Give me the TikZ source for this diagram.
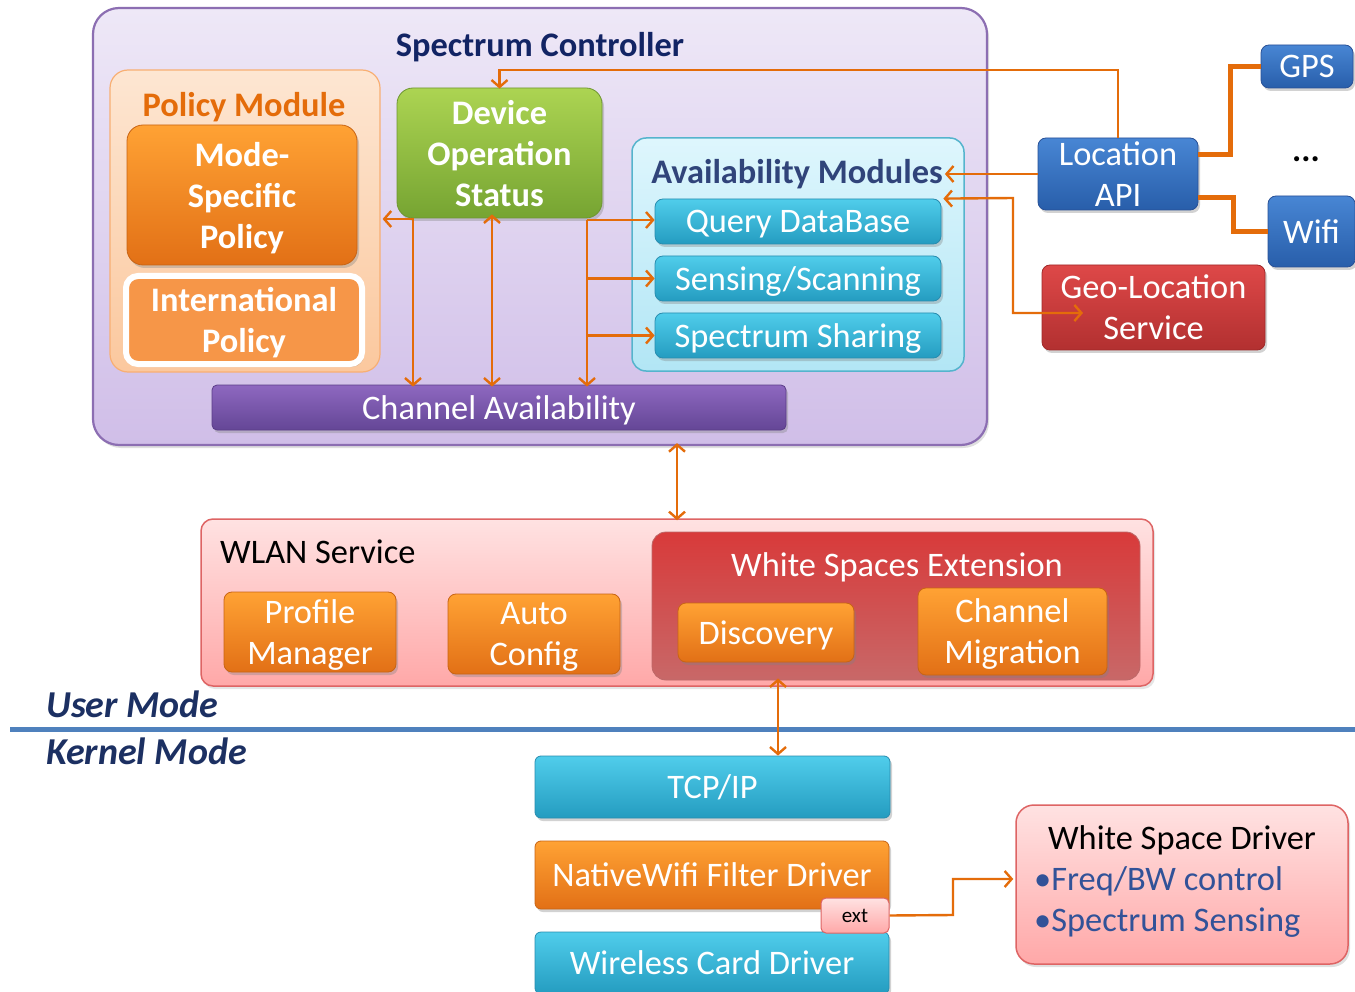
\documentclass[tikz,border=0pt]{standalone}
\usepackage{fontspec}
\setmainfont{Carlito}
\usetikzlibrary{arrows.meta,shadows}
\newcommand\fsA{\fontsize{34.4}{41}\selectfont}
\newcommand\fsM{\fontsize{38}{44}\selectfont}
\newcommand\fsS{\fontsize{21}{24}\selectfont}
\definecolor{arrowc}{RGB}{228,108,10}
\definecolor{scTop}{RGB}{238,232,247}
\definecolor{scBot}{RGB}{208,190,232}
\definecolor{scBord}{RGB}{140,110,178}
\definecolor{pmTop}{RGB}{253,230,210}
\definecolor{pmBot}{RGB}{251,200,158}
\definecolor{pmBord}{RGB}{248,175,115}
\definecolor{pmText}{RGB}{228,108,10}
\definecolor{oTop}{RGB}{255,162,52}
\definecolor{oBot}{RGB}{226,112,22}
\definecolor{oBord}{RGB}{200,100,20}
\definecolor{intlFill}{RGB}{246,150,72}
\definecolor{gTop}{RGB}{172,212,82}
\definecolor{gBot}{RGB}{118,164,50}
\definecolor{gBord}{RGB}{110,150,50}
\definecolor{amTop}{RGB}{222,246,253}
\definecolor{amBot}{RGB}{178,230,245}
\definecolor{amBord}{RGB}{85,180,205}
\definecolor{cTop}{RGB}{80,205,235}
\definecolor{cBot}{RGB}{36,156,192}
\definecolor{cBord}{RGB}{40,140,175}
\definecolor{pTop}{RGB}{142,104,192}
\definecolor{pBot}{RGB}{100,70,150}
\definecolor{pBord}{RGB}{90,60,135}
\definecolor{bTop}{RGB}{72,134,212}
\definecolor{bBot}{RGB}{40,94,170}
\definecolor{bBord}{RGB}{40,80,150}
\definecolor{rTop}{RGB}{222,72,72}
\definecolor{rBot}{RGB}{178,48,48}
\definecolor{rBord}{RGB}{160,40,40}
\definecolor{wlTop}{RGB}{255,226,226}
\definecolor{wlBot}{RGB}{255,168,168}
\definecolor{wlBord}{RGB}{222,100,100}
\definecolor{wseTop}{RGB}{216,58,58}
\definecolor{wseBot}{RGB}{200,104,104}
\definecolor{navy}{RGB}{18,36,100}
\definecolor{amText}{RGB}{48,68,122}
\definecolor{modeText}{RGB}{28,48,98}
\definecolor{lineBlue}{RGB}{79,129,189}
\definecolor{bulletBlue}{RGB}{50,82,152}
\begin{document}
\begin{tikzpicture}[x=1pt,y=-1pt,
  shad/.style={drop shadow={opacity=0.35,shadow xshift=2pt,shadow yshift=-3pt}},
  wbox/.style={rounded corners=8pt, align=center, text=white, font=\fsA, inner sep=0pt, text depth=0pt, line width=0.8pt, shad},
  orangeb/.style={wbox, top color=oTop, bottom color=oBot, draw=oBord},
  cyanb/.style={wbox, top color=cTop, bottom color=cBot, draw=cBord},
  greenb/.style={wbox, top color=gTop, bottom color=gBot, draw=gBord},
  purpleb/.style={wbox, rounded corners=5pt, top color=pTop, bottom color=pBot, draw=pBord},
  blueb/.style={wbox, top color=bTop, bottom color=bBot, draw=bBord},
  redb/.style={wbox, top color=rTop, bottom color=rBot, draw=rBord},
  label/.style={inner sep=0pt, font=\fsA, text depth=0pt},
  oarrow/.style={draw=arrowc, line width=2.4pt, -{Straight Barb[length=7pt,width=16pt]}},
  biarrow/.style={draw=arrowc, line width=2.4pt, {Straight Barb[length=7pt,width=16pt]}-{Straight Barb[length=7pt,width=16pt]}},
  thickline/.style={draw=arrowc, line width=5pt},
]
\useasboundingbox (0,0) rectangle (1355,992);
\fill[white] (0,0) rectangle (1355,992);

% ---------- Spectrum Controller ----------
\node[rounded corners=26pt, top color=scTop, bottom color=scBot, draw=scBord, line width=2.2pt,
      minimum width=894pt, minimum height=437pt, inner sep=0pt,
      drop shadow={opacity=0.25,shadow xshift=2pt,shadow yshift=-3pt}] (sc) at (540,226.5) {};
\node[label, font=\fsA\bfseries, text=navy] (sctitle) at (540,44) {Spectrum Controller};

% Policy module
\node[rounded corners=18pt, top color=pmTop, bottom color=pmBot, draw=pmBord, line width=1.2pt,
      minimum width=270pt, minimum height=302pt, inner sep=0pt] (pm) at (245,221) {};
\node[label, font=\fsA\bfseries, text=pmText] (pmtitle) at (244,104) {Policy Module};
\node[orangeb, rounded corners=16pt, font=\fsA\bfseries, minimum width=230pt, minimum height=140pt] (msp) at (242,195) {Mode-\\Specific\\Policy};
\node[rounded corners=12pt, fill=intlFill, draw=white, line width=6pt, text=white, align=center,
      font=\fsA\bfseries, inner sep=0pt, text depth=0pt, minimum width=236pt, minimum height=88pt,
      drop shadow={opacity=0.25,shadow xshift=2pt,shadow yshift=-3pt}] (intl) at (244,320) {International\\Policy};

% Device operation status
\node[greenb, rounded corners=16pt, font=\fsA\bfseries, minimum width=205pt, minimum height=130pt] (dev) at (499.5,153) {Device\\Operation\\Status};

% Availability modules
\node[rounded corners=14pt, top color=amTop, bottom color=amBot, draw=amBord, line width=1.5pt,
      minimum width=332pt, minimum height=233pt, inner sep=0pt] (am) at (798,254.5) {};
\node[label, font=\fsA\bfseries, text=amText] (amtitle) at (797,171) {Availability Modules};
\node[cyanb, minimum width=286pt, minimum height=45pt] (qdb) at (798,221.5) {Query DataBase};
\node[cyanb, minimum width=286pt, minimum height=45pt] (sens) at (798,278.5) {Sensing/Scanning};
\node[cyanb, minimum width=286pt, minimum height=45pt] (shar) at (798,335.5) {Spectrum Sharing};

% Channel availability
\node[purpleb, minimum width=574pt, minimum height=45pt] (ca) at (499,407.5) {Channel Availability};

% ---------- Location side ----------
\node[blueb, minimum width=160pt, minimum height=72pt] (loc) at (1118,174) {Location\\API};
\node[blueb, minimum width=92pt, minimum height=43pt] (gps) at (1307,66.5) {GPS};
\node[label, font=\fsA\bfseries] (dots) at (1306,159) {...};
\node[blueb, minimum width=87pt, minimum height=71pt] (wifi) at (1311.5,231.5) {Wifi};
\node[redb, minimum width=223pt, minimum height=85pt] (geo) at (1153.5,307.5) {Geo-Location\\Service};

% ---------- WLAN service ----------
\node[rounded corners=12pt, top color=wlTop, bottom color=wlBot, draw=wlBord, line width=1.5pt,
      minimum width=952pt, minimum height=167pt, inner sep=0pt,
      drop shadow={opacity=0.2,shadow xshift=2pt,shadow yshift=-3pt}] (wlan) at (677,602.5) {};
\node[label, anchor=west, text=black] (wlantitle) at (220,552) {WLAN Service};
\node[rounded corners=14pt, top color=wseTop, bottom color=wseBot, draw=rBord!70, line width=0.8pt,
      minimum width=488pt, minimum height=148pt, inner sep=0pt] (wse) at (896,606) {};
\node[label, text=white] (wsetitle) at (897,565) {White Spaces Extension};
\node[orangeb, minimum width=172pt, minimum height=80pt] (prof) at (310,632) {Profile\\Manager};
\node[orangeb, minimum width=172pt, minimum height=80pt] (auto) at (534,634) {Auto\\Config};
\node[orangeb, minimum width=176pt, minimum height=59pt] (disc) at (766,632.5) {Discovery};
\node[orangeb, minimum width=189pt, minimum height=87pt] (chm) at (1012.5,631.5) {Channel\\Migration};

% ---------- Mode separator ----------
\coordinate (sepL) at (10,729);
\coordinate (sepR) at (1355,729);
\draw[lineBlue, line width=5pt] (sepL) -- (sepR);
\node[label, anchor=west, font=\fsM\bfseries\itshape, text=modeText] (umode) at (46,704) {User Mode};
\node[label, anchor=west, font=\fsM\bfseries\itshape, text=modeText] (kmode) at (46,751) {Kernel Mode};

% ---------- Kernel side ----------
\node[cyanb, rounded corners=6pt, minimum width=355pt, minimum height=62pt] (tcp) at (712.5,787) {TCP/IP};
\node[orangeb, rounded corners=6pt, minimum width=354pt, minimum height=68pt] (nwf) at (712,875) {NativeWifi Filter Driver};
\node[cyanb, rounded corners=6pt, minimum width=354pt, minimum height=62pt] (wcd) at (712,963) {Wireless Card Driver};
\node[rounded corners=5pt, top color=wlTop, bottom color=wlBot, draw=wlBord, line width=1pt,
      minimum width=68pt, minimum height=35pt, inner sep=0pt, text depth=0pt, font=\fsS, text=black] (ext) at (855,915.5) {ext};
\node[rounded corners=18pt, top color=wlTop, bottom color=wlBot, draw=wlBord, line width=1.5pt,
      minimum width=332pt, minimum height=159pt, inner sep=0pt,
      drop shadow={opacity=0.25,shadow xshift=2pt,shadow yshift=-3pt}] (wsd) at (1182,884.5) {};
\node[label, text=black] (wsdtitle) at (1182,838) {White Space Driver};
\node[label, anchor=west, text=bulletBlue] (wsd1) at (1034,879) {•Freq/BW control};
\node[label, anchor=west, text=bulletBlue] (wsd2) at (1034,920) {•Spectrum Sensing};

% ---------- Connectors ----------
\coordinate (topY) at (0,70);
\draw[oarrow] (loc.north) |- (dev.north |- topY) -- ([yshift=-1pt]dev.north);
\draw[oarrow] (loc.west) -- ([xshift=2pt]loc.west -| amtitle.east);
\coordinate (geoBend) at (1013,198);
\coordinate (geoIn) at (1083,313);
\draw[biarrow] ([xshift=2pt]qdb.north east) -- (geoBend) |- (geoIn);
\coordinate (gpsBend) at (1230,155);
\coordinate (wifiBend) at (1233,198);
\draw[thickline] (loc.east |- gpsBend) -- (gpsBend) |- (gps.west);
\draw[thickline] (loc.east |- wifiBend) -- (wifiBend) |- (wifi.west);

% inside Spectrum Controller
\coordinate (polJ) at (413,219);
\draw[biarrow] ([xshift=2pt]pm.east |- polJ) -- (polJ) -- ([yshift=-2pt]polJ |- ca.north);
\draw[biarrow] ([xshift=-7.5pt,yshift=4pt]dev.south) -- ([xshift=-7.5pt,yshift=-2pt]dev.south |- ca.north);
\coordinate (avJ) at (587,220);
\draw[oarrow] (avJ) -- ([yshift=-2pt]avJ |- ca.north);
\draw[oarrow] (avJ) -- (qdb.west |- avJ);
\draw[oarrow] (avJ |- sens.west) -- (sens.west);
\draw[oarrow] (avJ |- shar.west) -- (shar.west);

% between layers
\coordinate (midX) at (677,0);
\draw[biarrow] ([yshift=3pt]sc.south -| midX) -- ([yshift=-2pt]wlan.north -| midX);
\draw[biarrow] ([xshift=-118pt,yshift=2pt]wse.south) -- ([xshift=-118pt]wse.south |- tcp.north);

% ext -> White Space Driver
\coordinate (extBend) at (953,915);
\draw[oarrow] (ext.east) -- (extBend) |- ([xshift=-2pt]wsd.west |- wsd1.west);
\end{tikzpicture}
\end{document}
